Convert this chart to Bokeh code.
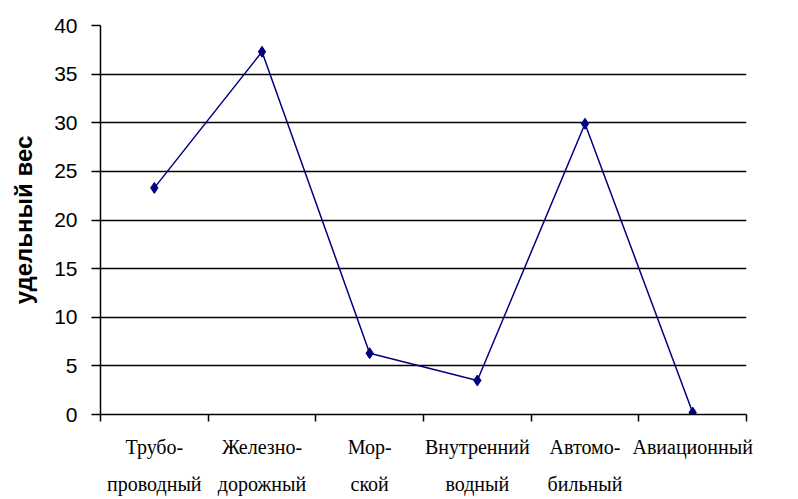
from bokeh.plotting import figure
from bokeh.models import Range1d, FixedTicker
from bokeh.embed import file_html
from bokeh.resources import INLINE

categories = ["Трубопроводный", "Железнодорожный", "Морской",
              "Внутренний водный", "Автомобильный", "Авиационный"]
tick_labels = ["Трубо-\nпроводный", "Железно-\nдорожный", "Мор-\nской",
               "Внутренний\nводный", "Автомо-\nбильный", "Авиационный"]
values = [23.3, 37.3, 6.3, 3.5, 29.9, 0.2]
y_ticks = [0, 5, 10, 15, 20, 25, 30, 35, 40]
y_title = "удельный вес"

n = len(categories)
xs = [i + 0.5 for i in range(n)]
bounds = [i for i in range(n + 1)]

p = figure(width=798, height=499, x_range=Range1d(0, n), y_range=Range1d(0, 40),
           output_backend="svg", toolbar_location=None,
           min_border_left=100, min_border_right=52, min_border_top=25, min_border_bottom=85)
p.outline_line_color = None
p.background_fill_color = "white"
p.border_fill_color = "white"

# x axis
p.xaxis.ticker = FixedTicker(ticks=xs, minor_ticks=bounds)
p.xaxis.major_label_overrides = {x: lbl for x, lbl in zip(xs, tick_labels)}
p.xaxis.major_tick_line_color = None
p.xaxis.minor_tick_line_color = "black"
p.xaxis.minor_tick_line_width = 1.5
p.xaxis.minor_tick_out = 7
p.xaxis.minor_tick_in = 0
p.xaxis.axis_line_color = "black"
p.xaxis.axis_line_width = 1.5
p.xaxis.major_label_text_font = "Liberation Serif"
p.xaxis.major_label_text_font_size = "20px"
p.xaxis.major_label_text_color = "black"
p.xaxis.major_label_text_line_height = 1.7
p.xaxis.major_label_standoff = 14
p.xgrid.visible = False

# y axis
p.yaxis.ticker = FixedTicker(ticks=y_ticks, minor_ticks=[])
p.yaxis.major_tick_line_color = "black"
p.yaxis.major_tick_line_width = 1.5
p.yaxis.major_tick_out = 9
p.yaxis.major_tick_in = 0
p.yaxis.minor_tick_line_color = None
p.yaxis.axis_line_color = "black"
p.yaxis.axis_line_width = 1.5
p.yaxis.major_label_text_font = "Liberation Sans"
p.yaxis.major_label_text_font_size = "21px"
p.yaxis.major_label_text_color = "black"
p.yaxis.major_label_standoff = 14
p.yaxis.axis_label = y_title
p.yaxis.axis_label_text_font = "Liberation Sans"
p.yaxis.axis_label_text_font_style = "bold"
p.yaxis.axis_label_text_font_size = "24px"
p.yaxis.axis_label_text_color = "black"
p.yaxis.axis_label_standoff = 14
p.ygrid.ticker = FixedTicker(ticks=y_ticks, minor_ticks=[])
p.ygrid.grid_line_color = "black"
p.ygrid.grid_line_width = 1.5

p.line(xs, values, line_color="#000080", line_width=1.5)
p.scatter(xs, values, marker="diamond", size=11, fill_color="#000080", line_color="#000080")

open("out.html", "w").write(file_html(p, INLINE))
